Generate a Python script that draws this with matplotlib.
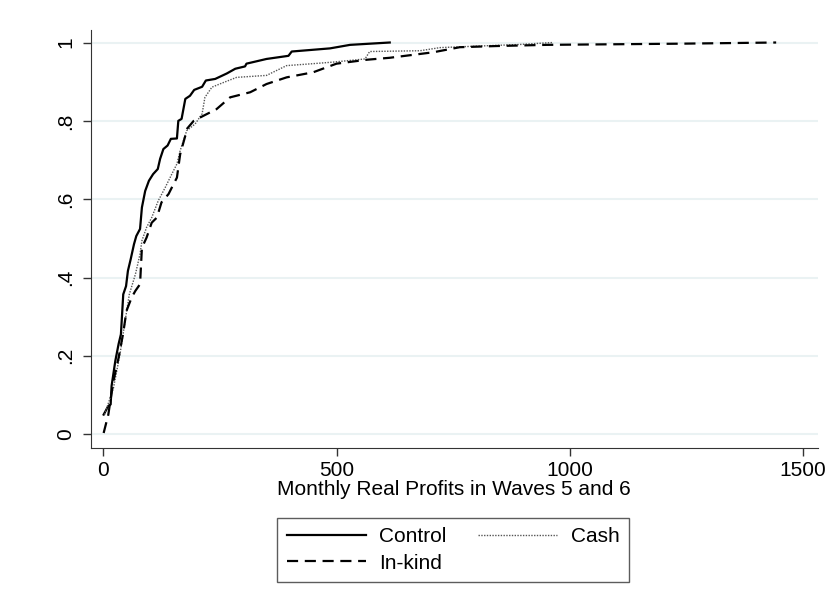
import matplotlib
matplotlib.use("Agg")
import matplotlib.pyplot as plt

plt.rcParams["font.family"] = ["Liberation Sans", "DejaVu Sans"]

# CDF values
control_x = [1, 11, 16, 18, 26, 33, 38, 43, 49, 53, 59, 66, 71, 79, 83, 90, 98,
             107, 117, 122, 129, 138, 145, 158, 161, 168, 176, 186, 195, 212,
             220, 240, 265, 283, 304, 307, 350, 397, 404, 486, 529, 614]
control_y = [.05, .072, .076, .123, .187, .23, .255, .357, .378, .417, .447,
             .485, .506, .524, .579, .621, .647, .664, .677, .703, .728, .737,
             .754, .755, .80, .805, .856, .864, .879, .887, .903, .907, .921,
             .933, .939, .946, .958, .966, .977, .985, .994, 1.0]

cash_x = [3, 22, 36, 47, 56, 69, 79, 83, 93, 104, 118, 133, 147, 158, 165, 179,
          197, 212, 218, 233, 258, 286, 350, 393, 450, 493, 561, 571, 679,
          722, 807, 893, 964]
cash_y = [.05, .118, .204, .289, .357, .408, .46, .494, .528, .553, .596, .63,
          .664, .69, .724, .775, .792, .818, .86, .886, .898, .911, .916, .941,
          .946, .95, .958, .977, .979, .987, .991, .995, 1.0]

inkind_x = [1, 11, 22, 33, 43, 50, 61, 69, 79, 83, 93, 104, 115, 125, 140,
            151, 158, 165, 176, 179, 194, 215, 243, 272, 315, 350, 393, 450,
            500, 565, 614, 707, 764, 843, 950, 1236, 1442]
inkind_y = [.003, .05, .136, .195, .259, .315, .349, .366, .383, .476, .502,
            .54, .553, .592, .613, .639, .655, .715, .762, .779, .80, .813,
            .83, .86, .873, .894, .911, .924, .946, .956, .961, .975, .988,
            .991, .994, .997, 1.0]

x_ticks = [0, 500, 1000, 1500]
y_ticks = [0, .2, .4, .6, .8, 1]
y_labels = ["0", ".2", ".4", ".6", ".8", "1"]

fig = plt.figure(figsize=(8.31, 6.08), dpi=100)
ax = fig.add_axes([0.109, 0.2627, 0.875, 0.688])

ax.plot(control_x, control_y, color="black", lw=1.6, ls="-", label="Control")
ax.plot(cash_x, cash_y, color="#555555", lw=1.0, ls=(0, (1, 1)), label="Cash")
ax.plot(inkind_x, inkind_y, color="black", lw=1.6, ls=(0, (5, 3)), label="In-kind")

ax.set_xlim(-27, 1531)
ax.set_ylim(-0.036, 1.032)
ax.set_xticks(x_ticks)
ax.set_yticks(y_ticks)
ax.set_yticklabels(y_labels, rotation=90, va="center")
ax.tick_params(labelsize=15, length=6, width=1, color="#333333")
ax.tick_params(axis="x", pad=3)
ax.tick_params(axis="y", pad=5)
ax.grid(axis="y", color="#eaf2f3", lw=1.5)
ax.set_axisbelow(True)
for s in ["top", "right"]:
    ax.spines[s].set_visible(False)
for s in ["left", "bottom"]:
    ax.spines[s].set_color("#333333")

ax.set_xlabel("Monthly Real Profits in Waves 5 and 6", fontsize=15, labelpad=0)

handles, labels = ax.get_legend_handles_labels()
order = [0, 2, 1]
leg = fig.legend([handles[i] for i in order], [labels[i] for i in order],
                 ncol=2, loc="center", bbox_to_anchor=(453 / 831, 1 - 550 / 608),
                 fontsize=15, frameon=True, fancybox=False, edgecolor="#333333",
                 handlelength=3.8, columnspacing=1.5, handletextpad=0.65,
                 borderpad=0.45, labelspacing=0.35, borderaxespad=0)
leg.get_frame().set_linewidth(1)

fig.savefig("out.png", dpi=100)
